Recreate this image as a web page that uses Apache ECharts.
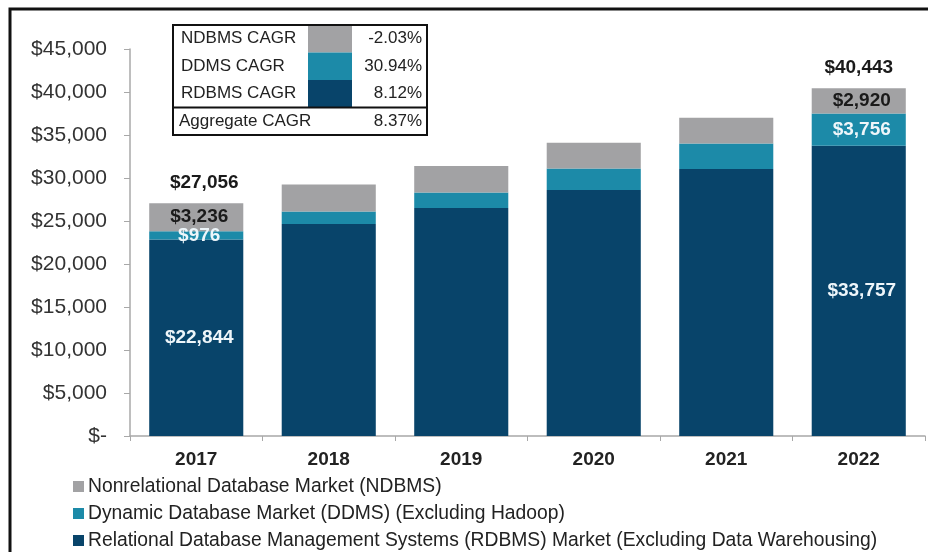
<!DOCTYPE html>
<html>
<head>
<meta charset="utf-8">
<script src="https://cdn.jsdelivr.net/npm/echarts@6/dist/echarts.min.js"></script>
<style>
  html, body { margin: 0; padding: 0; background: #fff; }
  #chart { width: 928px; height: 552px; }
</style>
</head>
<body>
<div id="chart"></div>
<script>
// Database market size by segment, US$ millions
const years = ['2017', '2018', '2019', '2020', '2021', '2022'];
const rdbms = [22844, 24650, 26500, 28600, 31050, 33757];
const ddms = [976, 1450, 1800, 2500, 2950, 3756];
const ndbms = [3236, 3150, 3100, 3000, 3000, 2920];
// Stated totals, shown above the first and last bars only
const totals = [27056, '-', '-', '-', '-', 40443];
const labeledYears = ['2017', '2022'];

const seriesNames = [
  'Nonrelational Database Market (NDBMS)',
  'Dynamic Database Market (DDMS) (Excluding Hadoop)',
  'Relational Database Management Systems (RDBMS) Market (Excluding Data Warehousing)'
];

// Growth rates table
const cagrLabels = ['NDBMS CAGR', 'DDMS CAGR', 'RDBMS CAGR'];
const cagrValues = ['-2.03%', '30.94%', '8.12%'];
const aggregateLabel = 'Aggregate CAGR';
const aggregateValue = '8.37%';

const colors = { ndbms: '#a2a2a4', ddms: '#1c8aa8', rdbms: '#08446a' };
const FONT = '"Liberation Sans", Arial, sans-serif';

const money = v => '$' + Number(v).toLocaleString('en-US');

function segLabel(color) {
  return {
    show: true,
    position: 'inside',
    offset: [3, 0],
    fontFamily: FONT,
    fontSize: 19,
    fontWeight: 'bold',
    color: color,
    formatter: p => labeledYears.includes(p.name) ? money(p.value) : ''
  };
}

// Table drawn in the upper-left of the plot
const tX = 173, tY = 25, tW = 254, rowH = 27.5;
const swX = 308, swW = 44;
const tableSwatch = [colors.ndbms, colors.ddms, colors.rdbms];
const tableEls = [];
cagrLabels.forEach((lab, i) => {
  tableEls.push({
    type: 'rect', shape: { x: swX, y: tY + i * rowH, width: swW, height: rowH },
    style: { fill: tableSwatch[i] }
  });
  tableEls.push({
    type: 'text', x: tX + 8, y: tY + i * rowH + rowH / 2,
    style: { text: lab, font: '17px ' + FONT, fill: '#222', verticalAlign: 'middle' }
  });
  tableEls.push({
    type: 'text', x: tX + tW - 5, y: tY + i * rowH + rowH / 2,
    style: { text: cagrValues[i], font: '17px ' + FONT, fill: '#222', align: 'right', verticalAlign: 'middle' }
  });
});
tableEls.push({
  type: 'text', x: tX + 6, y: tY + 3 * rowH + rowH / 2,
  style: { text: aggregateLabel, font: '17px ' + FONT, fill: '#222', verticalAlign: 'middle' }
});
tableEls.push({
  type: 'text', x: tX + tW - 5, y: tY + 3 * rowH + rowH / 2,
  style: { text: aggregateValue, font: '17px ' + FONT, fill: '#222', align: 'right', verticalAlign: 'middle' }
});
tableEls.push({
  type: 'line', shape: { x1: tX, y1: tY + 3 * rowH, x2: tX + tW, y2: tY + 3 * rowH },
  style: { stroke: '#111', lineWidth: 2 }
});
tableEls.push({
  type: 'rect', shape: { x: tX, y: tY, width: tW, height: 4 * rowH },
  style: { fill: 'none', stroke: '#111', lineWidth: 2 }
});

const chart = echarts.init(document.getElementById('chart'), null, { renderer: 'canvas' });
chart.setOption({
  animation: false,
  backgroundColor: '#fff',
  textStyle: { fontFamily: FONT },
  grid: { left: 130, right: 3, top: 49, bottom: 116, containLabel: false },
  legend: {
    orient: 'vertical',
    left: 73,
    top: 477,
    padding: 0,
    itemWidth: 11,
    itemHeight: 11,
    itemGap: 8,
    icon: 'rect',
    data: seriesNames,
    textStyle: { fontFamily: FONT, fontSize: 19.3, color: '#222', lineHeight: 19, padding: [0, 0, 0, -1] }
  },
  xAxis: {
    type: 'category',
    data: years,
    axisLine: { lineStyle: { color: '#a8a8a8', width: 1.5 } },
    axisTick: { show: true, length: 5, lineStyle: { color: '#a8a8a8' } },
    axisLabel: { fontFamily: FONT, fontSize: 19, fontWeight: 'bold', color: '#222', margin: 14 }
  },
  yAxis: {
    type: 'value',
    min: 0,
    max: 45000,
    interval: 5000,
    splitLine: { show: false },
    axisLine: { show: true, lineStyle: { color: '#a8a8a8', width: 1.5 } },
    axisTick: { show: true, length: 6, lineStyle: { color: '#a8a8a8' } },
    axisLabel: {
      fontFamily: FONT, fontSize: 21, color: '#333', margin: 23,
      formatter: v => v === 0 ? '$-' : money(v)
    }
  },
  series: [
    {
      name: seriesNames[2], type: 'bar', stack: 'market', barWidth: '71%',
      itemStyle: { color: colors.rdbms }, data: rdbms, label: segLabel('#eef6fa')
    },
    {
      name: seriesNames[1], type: 'bar', stack: 'market',
      itemStyle: { color: colors.ddms }, data: ddms, label: segLabel('#eef6fa')
    },
    {
      name: seriesNames[0], type: 'bar', stack: 'market',
      itemStyle: { color: colors.ndbms }, data: ndbms, label: segLabel('#1a1a1a')
    },
    {
      name: 'Total', type: 'scatter', symbolSize: 0,
      itemStyle: { opacity: 1 },
      data: totals.map((v, i) => i === 0 ? { value: v, label: { offset: [8, 0] } } : v),
      label: {
        show: true, position: 'top', distance: 11,
        fontFamily: FONT, fontSize: 19, fontWeight: 'bold', color: '#1a1a1a',
        formatter: p => money(p.value)
      },
      tooltip: { show: false }
    }
  ],
  graphic: [
    {
      type: 'rect', z: 100,
      shape: { x: 10, y: 9, width: 940, height: 580 },
      style: { fill: 'none', stroke: '#111', lineWidth: 3 }
    },
    { type: 'group', z: 100, children: tableEls }
  ]
});
</script>
</body>
</html>
